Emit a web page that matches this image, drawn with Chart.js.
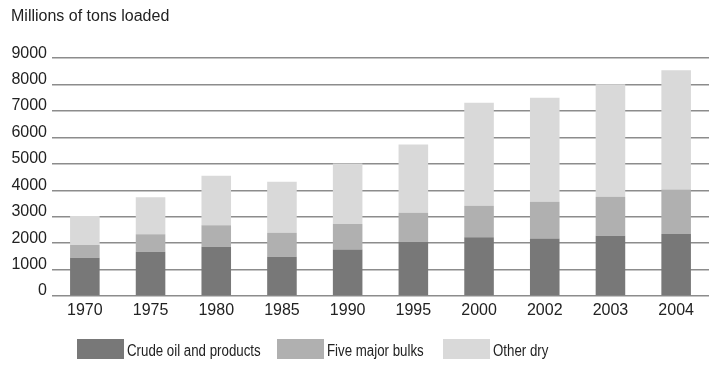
<!DOCTYPE html>
<html>
<head>
<meta charset="utf-8">
<script src="https://cdn.jsdelivr.net/npm/chart.js@4.4.1/dist/chart.umd.min.js"></script>
<style>
  html, body { margin: 0; padding: 0; background: #fff; }
  #wrap { width: 709px; height: 371px; }
</style>
</head>
<body>
<div id="wrap"><canvas id="c" width="709" height="371"></canvas></div>
<script>
// Seaborne trade, millions of tons loaded
const years = ['1970', '1975', '1980', '1985', '1990', '1995', '2000', '2002', '2003', '2004'];
const crudeOil = [1450, 1675, 1865, 1485, 1760, 2055, 2220, 2180, 2280, 2345];
const majorBulks = [480, 660, 810, 905, 965, 1095, 1195, 1385, 1475, 1690];
const otherDry = [1095, 1400, 1875, 1930, 2290, 2585, 3895, 3935, 4260, 4510];
const yTicks = [0, 1000, 2000, 3000, 4000, 5000, 6000, 7000, 8000, 9000];

const FONT = 'Arial, "Liberation Sans", Helvetica, sans-serif';
const TEXT = '#222222';

// Legend row drawn beneath the axis: wide swatch followed by a condensed label
const bottomLegend = {
  id: 'bottomLegend',
  afterDraw(chart) {
    const ctx = chart.ctx;
    const slots = [77, 277, 443];
    ctx.save();
    ctx.font = '16px ' + FONT;
    ctx.textBaseline = 'middle';
    ctx.textAlign = 'left';
    chart.data.datasets.forEach((ds, i) => {
      const x = slots[i];
      ctx.fillStyle = ds.backgroundColor;
      ctx.fillRect(x, 339, 47, 20);
      ctx.save();
      ctx.translate(x + 50, 352);
      ctx.scale(0.83, 1);
      ctx.fillStyle = TEXT;
      ctx.fillText(ds.label, 0, 0);
      ctx.restore();
    });
    ctx.restore();
  }
};

new Chart(document.getElementById('c'), {
  type: 'bar',
  data: {
    labels: years,
    datasets: [
      { label: 'Crude oil and products', data: crudeOil, backgroundColor: '#787878' },
      { label: 'Five major bulks', data: majorBulks, backgroundColor: '#b0b0b0' },
      { label: 'Other dry', data: otherDry, backgroundColor: '#d9d9d9' }
    ]
  },
  options: {
    responsive: false,
    animation: false,
    layout: { padding: { left: 11, right: 0, top: 0, bottom: 51 } },
    datasets: { bar: { barPercentage: 0.45, categoryPercentage: 1.0 } },
    plugins: {
      legend: { display: false },
      tooltip: { enabled: false },
      title: {
        display: true,
        text: 'Millions of tons loaded',
        align: 'start',
        color: TEXT,
        font: { family: FONT, size: 16, weight: 'normal' },
        padding: { top: 7, bottom: 32 }
      }
    },
    scales: {
      x: {
        stacked: true,
        afterFit(scale) { scale.height = 24; },
        grid: { display: false, drawTicks: false, tickLength: 0 },
        border: { display: false },
        ticks: { color: TEXT, font: { family: FONT, size: 16 }, padding: 5, maxRotation: 0 }
      },
      y: {
        stacked: true,
        min: 0,
        max: 9000,
        afterFit(scale) { scale.width = 41; },
        afterBuildTicks(scale) { scale.ticks = yTicks.map(v => ({ value: v })); },
        grid: { color: '#8c8c8c', lineWidth: 1.5, drawTicks: false },
        border: { display: false },
        ticks: {
          color: TEXT,
          font: { family: FONT, size: 16 },
          padding: 5,
          labelOffset: -5,
          callback: (v) => String(v)
        }
      }
    }
  },
  plugins: [bottomLegend]
});
</script>
</body>
</html>
